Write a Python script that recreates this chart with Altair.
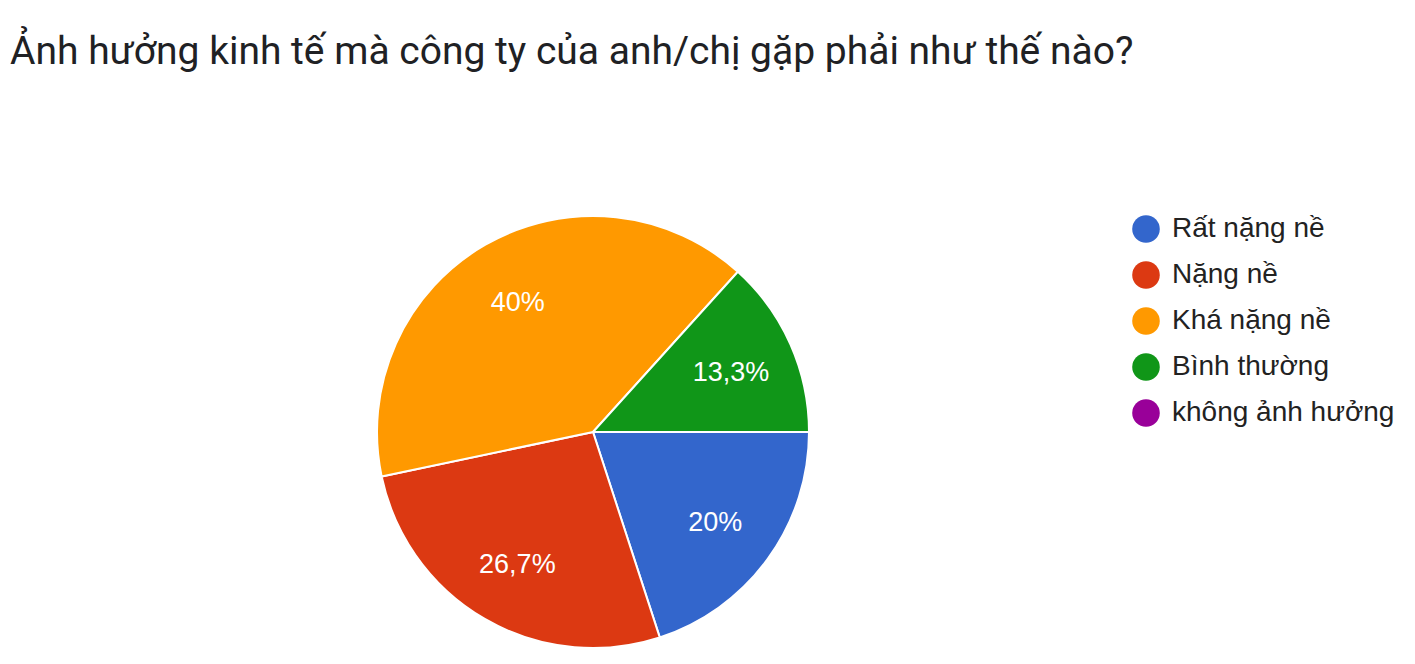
import altair as alt
import pandas as pd
import math

title_text = "Ảnh hưởng kinh tế mà công ty của anh/chị gặp phải như thế nào?"
categories = ["Rất nặng nề", "Nặng nề", "Khá nặng nề", "Bình thường", "không ảnh hưởng"]
percents = [20.0, 26.7, 40.0, 13.3, 0.0]
colors = ["#3366CC", "#DC3912", "#FF9900", "#109618", "#990099"]

labels = [(f"{p:g}".replace(".", ",") + "%") if p > 0 else "" for p in percents]
df = pd.DataFrame({"cat": categories, "pct": percents, "label": labels, "order": list(range(len(categories)))})

CX, CY, R = 585, 424, 216

theta = alt.Theta("pct:Q", stack=True, scale=alt.Scale(range=[math.pi / 2, math.pi / 2 + 2 * math.pi]))
color = alt.Color(
    "cat:N",
    scale=alt.Scale(domain=categories, range=colors),
    sort=categories,
    legend=alt.Legend(
        title=None,
        orient="none",
        legendX=1124,
        legendY=207,
        symbolType="circle",
        symbolSize=760,
        symbolStrokeWidth=0,
        labelFontSize=28,
        labelFont="Liberation Sans",
        labelColor="#222222",
        labelOffset=12,
        rowPadding=18,
        labelLimit=400,
    ),
)

base = alt.Chart(df).encode(theta=theta, order=alt.Order("order:Q"))

arcs = base.mark_arc(outerRadius=R, stroke="white", strokeWidth=2).encode(
    color=color, x=alt.value(CX), y=alt.value(CY)
)

texts = base.mark_text(radius=151, dy=2, fontSize=27, font="Liberation Sans", color="white").encode(
    text="label:N", x=alt.value(CX), y=alt.value(CY)
)

title = alt.Chart(pd.DataFrame({"t": [title_text]})).mark_text(
    align="left", baseline="alphabetic", fontSize=39, font="Roboto", color="#202124"
).encode(text="t:N", x=alt.value(2), y=alt.value(56))

chart = alt.layer(arcs, texts, title).properties(
    width=1399, height=648, autosize=alt.AutoSizeParams(type="none"), padding=0
).configure_view(stroke=None)

chart.save("out.html", embed_options={"renderer": "svg", "actions": False})
